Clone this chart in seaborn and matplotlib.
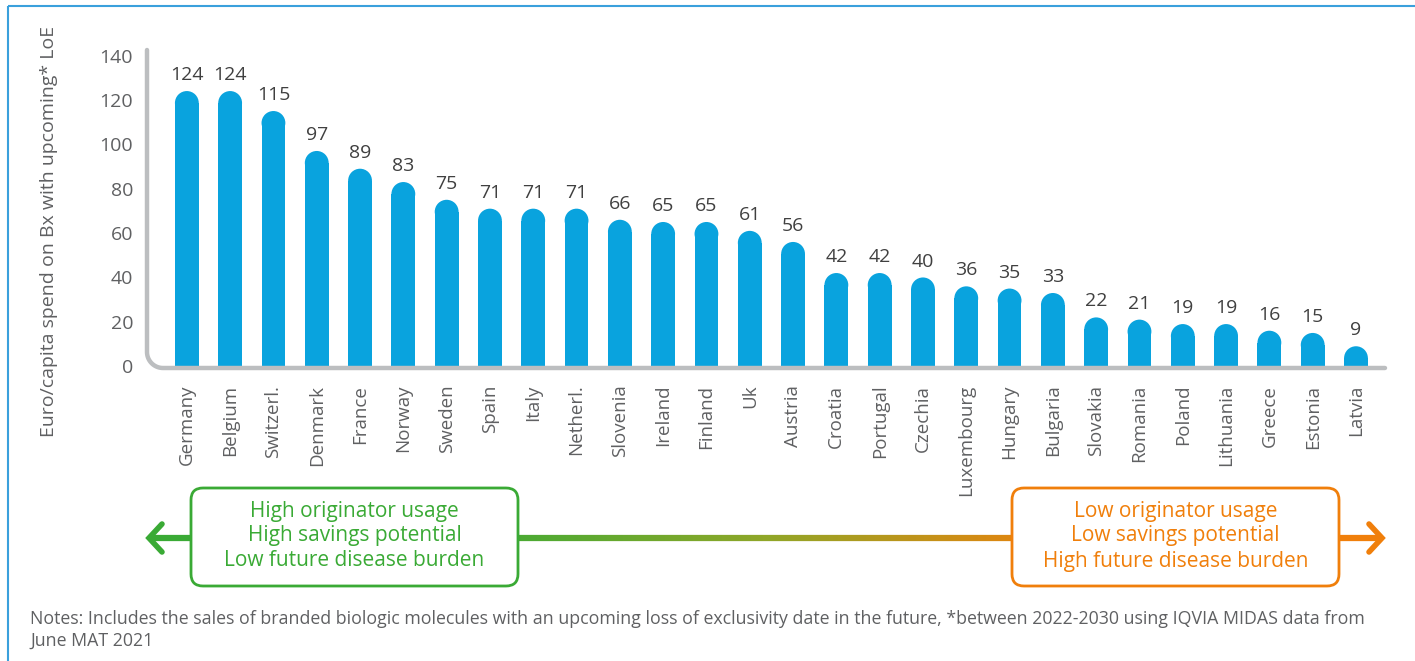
import numpy as np
import pandas as pd
import matplotlib
matplotlib.use("Agg")
import matplotlib.pyplot as plt
import seaborn as sns
from matplotlib.patches import Ellipse, FancyBboxPatch, Rectangle
from matplotlib.collections import LineCollection
from matplotlib.colors import LinearSegmentedColormap

# data
countries = ["Germany", "Belgium", "Switzerl.", "Denmark", "France", "Norway", "Sweden",
             "Spain", "Italy", "Netherl.", "Slovenia", "Ireland", "Finland", "Uk",
             "Austria", "Croatia", "Portugal", "Czechia", "Luxembourg", "Hungary",
             "Bulgaria", "Slovakia", "Romania", "Poland", "Lithuania", "Greece",
             "Estonia", "Latvia"]
values = [124, 124, 115, 97, 89, 83, 75, 71, 71, 71, 66, 65, 65, 61, 56,
          42, 42, 40, 36, 35, 33, 22, 21, 19, 19, 16, 15, 9]
y_ticks = [0, 20, 40, 60, 80, 100, 120, 140]
y_label = "Euro/capita spend on Bx with upcoming* LoE"
left_text = ["High originator usage", "High savings potential", "Low future disease burden"]
right_text = ["Low originator usage", "Low savings potential", "High future disease burden"]
notes = ("Notes: Includes the sales of branded biologic molecules with an upcoming loss of "
         "exclusivity date in the future, *between 2022-2030 using IQVIA MIDAS data from\nJune MAT 2021")

BAR = "#09A3DE"
GREY = "#5F6062"
SPINE = "#BCBEC0"
GREEN = "#3AAA35"
ORANGE = "#F07F0B"

sns.set_style("white")
plt.rcParams["font.family"] = ["Open Sans", "DejaVu Sans"]

W, H = 1415, 661
fig = plt.figure(figsize=(W / 100, H / 100), dpi=100)

# main axes placed in pixel terms
L, R, T, B = 147, 1385, 50, 368
ax = fig.add_axes([L / W, 1 - B / H, (R - L) / W, (B - T) / H])

df = pd.DataFrame({"country": countries, "value": values})
sns.barplot(data=df, x="country", y="value", color=BAR, saturation=1, width=0.55, ax=ax)

ax.set_xlim(-0.92, 27.67)
ax.set_ylim(-0.8, 142.5)
ax.set_yticks(y_ticks)
ax.tick_params(axis="y", length=0, pad=10, labelsize=14, labelcolor=GREY)
ax.tick_params(axis="x", length=0, pad=12, labelsize=13.5, labelcolor=GREY, rotation=90)
ax.set_xlabel("")
ax.set_ylabel(y_label, fontsize=14, color=GREY)
ax.yaxis.set_label_coords(-0.072, 0.43)
for s in ax.spines.values():
    s.set_visible(False)
ax.patch.set_visible(False)

# round the bar tops
xu = (R - L) / (27.67 + 0.92)       # px per x unit
yu = (B - T) / (142.5 + 0.8)        # px per y unit
for p in ax.patches:
    w = p.get_width()
    h = p.get_height()
    ry = (w / 2) * xu / yu
    p.set_linewidth(0)
    p.set_height(h - ry)
    ax.add_patch(Ellipse((p.get_x() + w / 2, h - ry), w, 2 * ry, color=BAR, lw=0))

for i, v in enumerate(values):
    ax.annotate(str(v), (i, v), xytext=(0, 5), textcoords="offset points",
                ha="center", va="bottom", fontsize=14, color="#404040")

# overlay in pixel coordinates for the frame, spine and arrow
ov = fig.add_axes([0, 0, 1, 1])
ov.set_xlim(0, W)
ov.set_ylim(H, 0)
ov.axis("off")
ov.patch.set_visible(False)

ov.add_patch(Rectangle((8, 6), W + 10, H + 10, fill=False, ec="#3AA0DC", lw=1.5))

# axis line with rounded corner
rc = 16
t = np.linspace(0, np.pi / 2, 20)
xs = np.concatenate([[L], L + rc - rc * np.cos(t), [R]])
ys = np.concatenate([[T], B - rc + rc * np.sin(t), [B]])
ov.plot(xs, ys, color=SPINE, lw=3.2, solid_capstyle="round", solid_joinstyle="round")

# gradient arrow
ay = 538
x0, x1 = 150, 1381
n = 300
xx = np.linspace(x0, x1, n)
segs = [[(xx[k], ay), (xx[k + 1], ay)] for k in range(n - 1)]
cmap = LinearSegmentedColormap.from_list("go", [GREEN, GREEN, "#8FA628", ORANGE, ORANGE])
lc = LineCollection(segs, colors=cmap(np.linspace(0, 1, n - 1)), linewidths=4.5)
ov.add_collection(lc)
ov.plot([162, 149, 162], [524, ay, 552], color=GREEN, lw=4, solid_capstyle="round",
        solid_joinstyle="miter")
ov.plot([1369, 1382, 1369], [524, ay, 552], color=ORANGE, lw=4, solid_capstyle="round",
        solid_joinstyle="miter")

for (bx, col, lines) in [(191, GREEN, left_text), (1012, ORANGE, right_text)]:
    ov.add_patch(FancyBboxPatch((bx, 488), 327, 98, boxstyle="round,pad=0,rounding_size=12",
                                fc="white", ec=col, lw=2, zorder=3))
    for k, line in enumerate(lines):
        ov.text(bx + 163.5, 511 + 25 * k, line, ha="center", va="center",
                fontsize=15, color=col, zorder=4)

ov.text(30, 630, notes, ha="left", va="center", fontsize=12.8, color=GREY, linespacing=1.3)

fig.savefig("out.png", dpi=100)
